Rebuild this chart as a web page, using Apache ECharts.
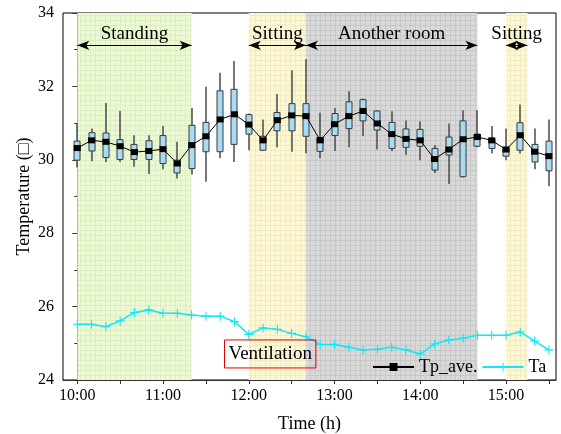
<!DOCTYPE html>
<html><head><meta charset="utf-8">
<script src="https://cdn.jsdelivr.net/npm/echarts@6/dist/echarts.min.js"></script>
<style>html,body{margin:0;padding:0;background:#fff}#c{width:561px;height:434px}</style>
</head><body><div id="c"></div>
<script>
// time in minutes after 10:00, every 10 min
const times = [0,10,20,30,40,50,60,70,80,90,100,110,120,130,140,150,160,170,180,190,200,210,220,230,240,250,260,270,280,290,300,310,320,330];
// box stats: [low whisker, Q1, median, Q3, high whisker]
const boxLow  = [29.79,29.96,29.94,29.94,29.81,29.61,29.74,29.49,29.60,29.40,30.04,29.94,30.26,30.24,30.34,30.22,30.18,30.04,30.24,30.34,30.64,30.28,30.24,30.14,29.99,29.64,29.34,29.52,30.34,30.17,29.99,30.17,29.74,29.28];
const boxQ1   = [29.99,30.24,30.06,30.01,30.01,30.01,29.90,29.64,29.76,30.22,30.22,30.42,30.70,30.26,30.79,30.79,30.64,30.23,30.66,30.85,31.06,30.81,30.31,30.34,30.37,29.72,30.13,29.54,30.37,30.31,30.10,30.26,29.94,29.70];
const tpAve   = [30.32,30.53,30.49,30.37,30.21,30.24,30.29,29.90,30.40,30.64,31.10,31.24,30.96,30.53,31.08,31.21,31.19,30.53,30.97,31.19,31.33,30.99,30.70,30.57,30.53,30.02,30.28,30.56,30.62,30.53,30.28,30.67,30.22,30.10];
const boxQ3   = [30.51,30.74,30.73,30.55,30.42,30.52,30.66,29.99,30.94,31.02,31.88,31.92,31.23,30.64,31.29,31.53,31.53,30.61,31.26,31.58,31.64,31.33,31.02,30.84,30.83,30.31,30.62,31.06,30.70,30.58,30.34,31.01,30.42,30.51];
const boxHigh = [31.01,30.85,31.55,31.33,30.67,30.67,30.92,30.49,31.41,31.99,32.37,32.69,31.26,31.10,31.79,32.44,32.74,31.28,31.41,31.87,31.67,31.35,31.32,31.07,31.05,30.40,30.99,31.35,31.35,30.92,30.85,31.51,30.85,31.10];
const ta      = [25.52,25.52,25.45,25.61,25.84,25.91,25.82,25.82,25.77,25.74,25.74,25.59,25.24,25.42,25.38,25.27,25.18,24.97,24.97,24.89,24.82,24.84,24.89,24.82,24.71,24.98,25.09,25.14,25.22,25.22,25.22,25.31,25.06,24.82];
const hourTicks = [0,60,120,180,240,300];
const hourLabels = ['10:00','11:00','12:00','13:00','14:00','15:00'];
const halfTicks = [0,30,60,90,120,150,180,210,240,270,300,330];
// phases
const phaseNames = ['Standing','Sitting','Another room','Sitting'];
const phaseStart = [0,120,160,300];
const phaseEnd   = [80,160,280,315];
const phaseKind  = ['green','yellow','gray','yellow'];
const shadeStart = [0,120,160,300];
const shadeEnd   = [80,160,280,315];
const ventilationAt = [135, 24.71];

const FONT = "'Liberation Serif','Times New Roman',serif";
function pat(base, line){
  const c=document.createElement('canvas'); c.width=5; c.height=5;
  const g=c.getContext('2d'); g.fillStyle=base; g.fillRect(0,0,5,5);
  g.fillStyle=line; g.fillRect(0,0,5,1); g.fillRect(0,0,1,5);
  return {image:c, repeat:'repeat'};
}
const fills = {
  green: pat('#ecf8d6','#dcf0bd'),
  yellow: pat('#fcf7d6','#f2ebbd'),
  gray: pat('#d9d9d9','#c8c8c8')
};
const boxData = times.map((t,i)=>[t,boxLow[i],boxQ1[i],tpAve[i],boxQ3[i],boxHigh[i]]);

const chart = echarts.init(document.getElementById('c'), null, {renderer:'canvas'});
chart.setOption({
  animation:false,
  textStyle:{fontFamily:FONT},
  grid:{left:63, right:5, top:13, bottom:54, outerBoundsMode:'none', containLabel:false,
    show:true, borderColor:'#000', borderWidth:1, backgroundColor:'transparent'},
  legend:{
    data:['Tp_ave.','Ta'], left:372, top:358, padding:0, itemWidth:41, itemHeight:10, itemGap:4,
    textStyle:{fontFamily:FONT, fontSize:18, color:'#000'}
  },
  xAxis:{
    type:'value', min:-10, max:335,
    axisLine:{lineStyle:{color:'#333', width:1}},
    axisTick:{show:true, customValues:halfTicks, length:4, lineStyle:{color:'#333'}},
    axisLabel:{customValues:hourTicks, formatter:v=>hourLabels[hourTicks.indexOf(v)] || '', fontSize:16, color:'#000', margin:8, fontFamily:FONT},
    splitLine:{show:false},
    name:'Time (h)', nameLocation:'middle', nameGap:35, nameMoveOverlap:false,
    nameTextStyle:{fontSize:18, color:'#000', fontFamily:FONT}
  },
  yAxis:{
    type:'value', min:24, max:34, interval:2,
    axisLine:{show:true, lineStyle:{color:'#333', width:1}},
    axisTick:{show:true, length:5, lineStyle:{color:'#333'}},
    minorTick:{show:true, splitNumber:2, length:3, lineStyle:{color:'#333'}},
    axisLabel:{fontSize:16, color:'#000', margin:9, fontFamily:FONT},
    splitLine:{show:false},
    name:'Temperature (□)', nameLocation:'middle', nameGap:30, nameRotate:90, nameMoveOverlap:false,
    nameTextStyle:{fontSize:18, color:'#000', fontFamily:FONT}
  },
  series:[
    {
      type:'line', name:'_shade', data:[], z:1, silent:true,
      markArea:{silent:true, data: shadeStart.map((s,i)=>[{xAxis:s, itemStyle:{color:fills[phaseKind[i]]}},{xAxis:shadeEnd[i]}])}
    },
    {
      type:'custom', name:'_box', z:3, data:boxData, encode:{x:0, y:[1,5]},
      renderItem:function(params, api){
        const t=api.value(0);
        const lo=api.coord([t,api.value(1)]), q1=api.coord([t,api.value(2)]);
        const q3=api.coord([t,api.value(4)]), hi=api.coord([t,api.value(5)]);
        const w=6, x=Math.round(lo[0]);
        return {type:'group', children:[
          {type:'line', shape:{x1:x,y1:lo[1],x2:x,y2:hi[1]}, style:{stroke:'#4a4a4a', lineWidth:1.5}},
          {type:'rect', shape:{x:x-w/2, y:q3[1], width:w, height:q1[1]-q3[1]}, style:{fill:'#a9dbf3', stroke:'#3a3a3a', lineWidth:1}}
        ]};
      }
    },
    {
      type:'line', name:'Tp_ave.', z:4, data:times.map((t,i)=>[t,tpAve[i]]),
      symbol:'rect', symbolSize:[7,6], showSymbol:true,
      lineStyle:{color:'#000', width:1}, itemStyle:{color:'#000'}
    },
    {
      type:'line', name:'Ta', z:4, data:times.map((t,i)=>[t,ta[i]]),
      symbol:'path://M4.4,0H5.6V4.4H10V5.6H5.6V10H4.4V5.6H0V4.4H4.4Z', symbolSize:9,
      lineStyle:{color:'#14e6f5', width:1.5}, itemStyle:{color:'#14e6f5'}
    },
    {
      type:'line', name:'_ann', data:[], z:5, silent:true,
      markLine:{
        silent:true, symbol:['arrow','arrow'], symbolSize:[7,12],
        lineStyle:{color:'#000', width:1, type:'solid'},
        label:{show:true, position:'insideMiddleTop', distance:2, color:'#000', fontSize:19, fontFamily:FONT},
        data: phaseNames.map((n,i)=>[
          {coord:[phaseStart[i],33.12], name:n, label:{formatter:n}},
          {coord:[phaseEnd[i],33.12]}
        ])
      },
      markPoint:{
        silent:true,
        data:[{coord:ventilationAt, symbol:'rect', symbolSize:1, itemStyle:{color:'rgba(0,0,0,0)'},
          label:{show:true, position:'inside', formatter:'Ventilation', fontSize:19, fontFamily:FONT, color:'#000',
            borderColor:'#e00000', borderWidth:1, padding:[4,4,3,4], lineHeight:21}}]
      }
    }
  ]
});
</script></body></html>
